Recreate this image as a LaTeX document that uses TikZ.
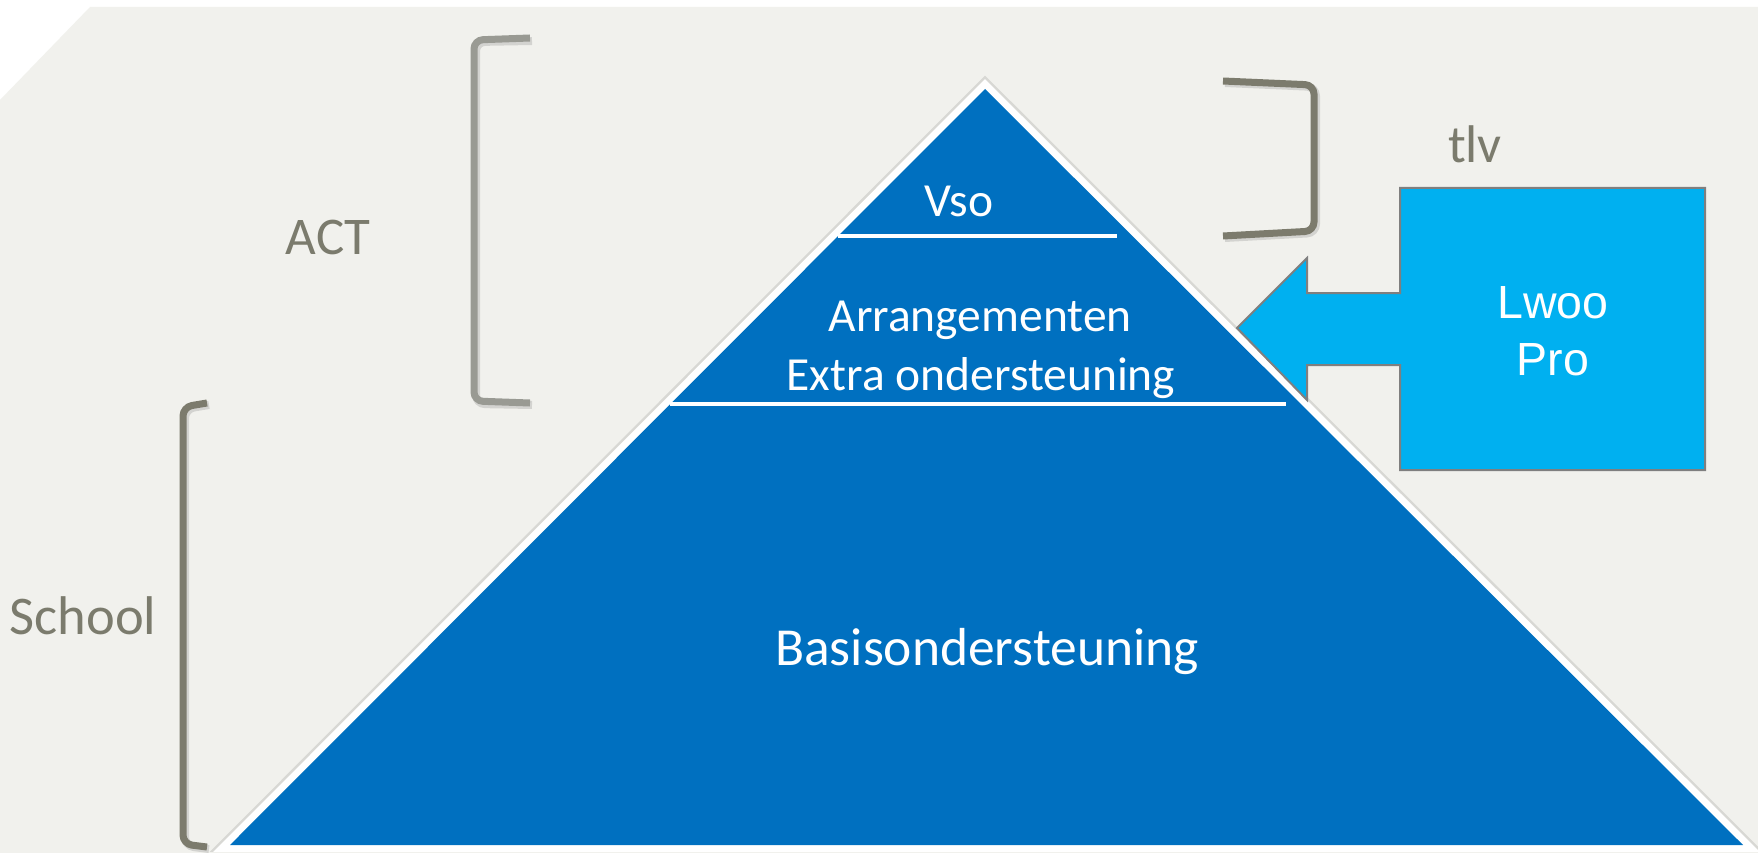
\documentclass[tikz,border=0pt]{standalone}
\usepackage{fontspec}
\setmainfont{Carlito}
\newfontfamily\arialfont{Liberation Sans}
\definecolor{bgcol}{HTML}{F1F1ED}
\definecolor{pyrblue}{HTML}{0070C0}
\definecolor{boxblue}{HTML}{00B0F0}
\definecolor{boxedge}{HTML}{7F7F7F}
\definecolor{labgray}{HTML}{7B7B6D}
\definecolor{brackdark}{HTML}{7C7B6D}
\definecolor{bracklight}{HTML}{999A93}
\tikzset{
  lab/.style={text=labgray, inner sep=0pt, anchor=base, font=\fontsize{53}{63}\selectfont},
  inlab/.style={text=white, inner sep=0pt, anchor=base, font=\fontsize{47.5}{57}\selectfont},
  boxlab/.style={text=white, inner sep=0pt, anchor=base},
  brack/.style={line width=7pt, rounded corners=9pt, line cap=butt},
  brackshadow/.style={line width=8pt, rounded corners=9pt, draw=black, opacity=0.12},
  divider/.style={draw=white, line width=4pt},
}
\begin{document}
\begin{tikzpicture}[x=1pt,y=-1pt]
\useasboundingbox (0,0) rectangle (1758,853);
\fill[white] (0,0) rectangle (1758,853);
% background
\fill[bgcol] (90,7) -- (1758,7) -- (1758,853) -- (0,853) -- (0,100) -- cycle;

% pyramid
\coordinate (apex) at (985,89);
\coordinate (bl) at (230,845);
\coordinate (br) at (1743,845);
\begin{scope}
\clip (0,0) rectangle (1758,851);
\draw[black, opacity=0.10, line width=19pt, line join=miter] (apex) -- (bl) -- (br) -- cycle;
\draw[white, line width=14pt, line join=miter] (apex) -- (bl) -- (br) -- cycle;
\end{scope}
\fill[pyrblue] (apex) -- (bl) -- (br) -- cycle;

% dividers
\coordinate (d1a) at (838,236);
\coordinate (d1b) at (1117,236);
\coordinate (d2a) at (670,403.5);
\coordinate (d2b) at (1286,403.5);
\draw[divider] (d1a) -- (d1b);
\draw[divider] (d2a) -- (d2b);

% pyramid texts
\node[inlab] (vso) at (959,216.7) {Vso};
\node[inlab] (arr) at (980,331.7) {Arrangementen};
\node[inlab] (extra) at (981,390) {Extra ondersteuning};
\node[inlab, font=\fontsize{53.5}{64}\selectfont] (basis) at (987,665.3) {Basisondersteuning};

% side labels
\node[lab] (act) at (328,254) {ACT};
\node[lab, font=\fontsize{54.5}{65}\selectfont] (school) at (83,634) {School};
\node[lab] (tlv) at (1475,163) {tlv};

% brackets (shadows)
\draw[brackshadow] (532,41) -- (476,42) -- (476,404) -- (532,405);
\draw[brackshadow] (209,405) -- (185,409) -- (185,846) -- (209,849);
\draw[brackshadow] (1225,83) -- (1316,87) -- (1316,233) -- (1225,238);
% brackets
\draw[brack, draw=bracklight] (530,38) -- (474,40) -- (474,401) -- (530,403);
\draw[brack, draw=brackdark] (207,403) -- (183,407) -- (183,844) -- (207,847);
\draw[brack, draw=brackdark] (1223,81) -- (1314,85) -- (1314,231) -- (1223,236);

% Lwoo Pro box with arrow
\draw[fill=boxblue, draw=boxedge, line width=2pt, line join=miter]
  (1400,188) -- (1705,188) -- (1705,470) -- (1400,470) -- (1400,365)
  -- (1307,365) -- (1307,400) -- (1237,328) -- (1307,258) -- (1307,293)
  -- (1400,293) -- cycle;
\node[boxlab] (lwoo) at (1553,318.3) {\arialfont\fontsize{46.5}{56}\selectfont Lwoo};
\node[boxlab] (pro) at (1553,375) {\arialfont\fontsize{46.5}{56}\selectfont Pro};
\end{tikzpicture}
\end{document}
